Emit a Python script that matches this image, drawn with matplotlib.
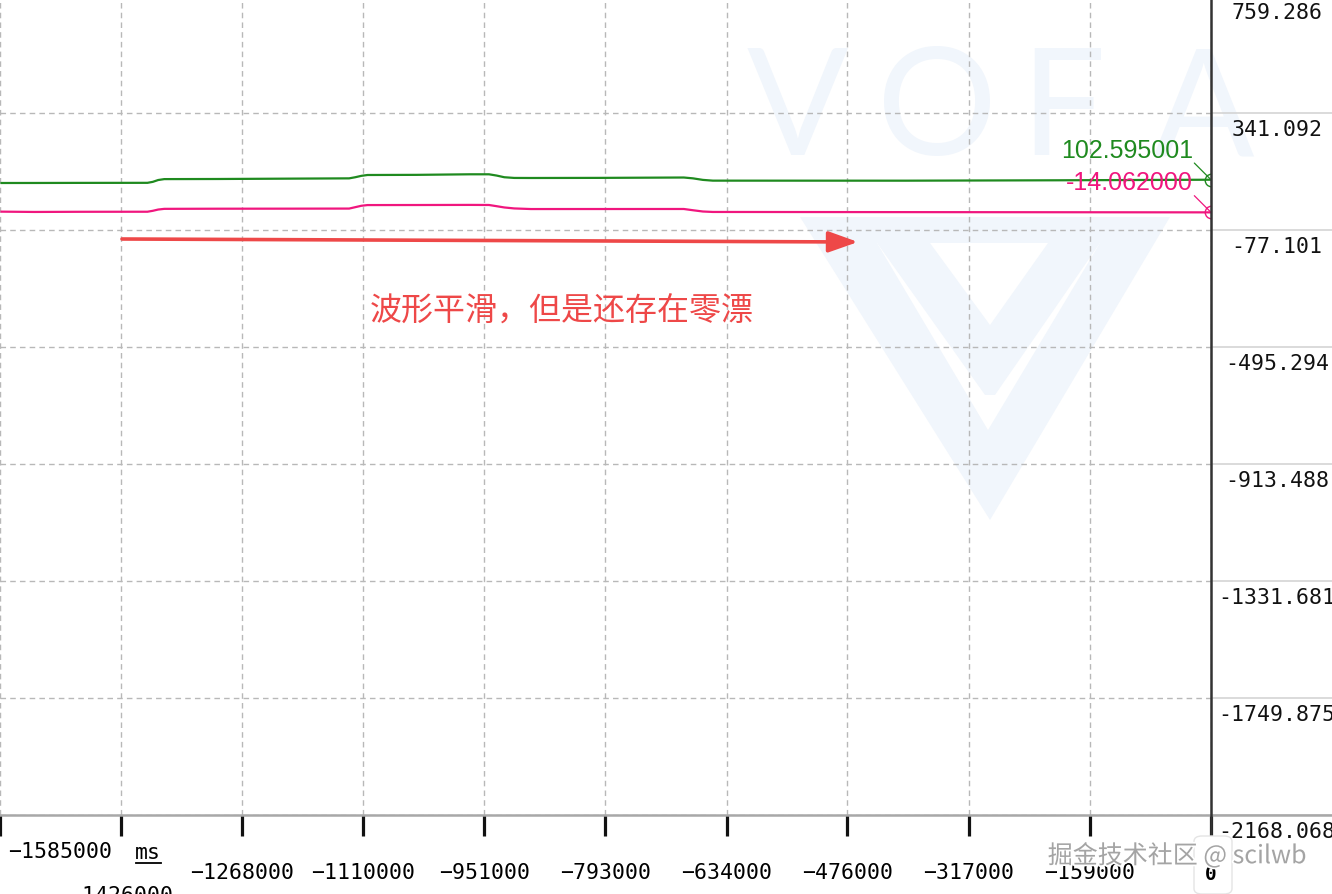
import matplotlib
matplotlib.use('Agg')
import matplotlib.pyplot as plt
from matplotlib import transforms
from matplotlib.lines import Line2D
from matplotlib.patches import Polygon, FancyBboxPatch
import matplotlib.patheffects as pe

plt.rcParams['font.family'] = ['Noto Sans CJK SC', 'DejaVu Sans']

# time axis in ms (0 = now), two channels
time_ms = [-1583000, -1540000, -1480000, -1392000, -1385000, -1378000, -1370000,
           -1300000, -1205000, -1128000, -1120000, -1112000, -1104000, -1040000,
           -970000, -945000, -935000, -925000, -912000, -890000, -800000,
           -690000, -678000, -665000, -652000, -400000, -200000, 0]
ch_green = [90.9, 91.0, 91.3, 91.5, 95.0, 101.5, 104.8,
            105.2, 106.5, 107.5, 111.5, 116.5, 119.5, 120.0,
            122.0, 122.0, 117.5, 111.5, 109.0, 108.8, 109.2,
            110.5, 107.5, 102.0, 99.3, 99.2, 100.6, 102.6]
ch_pink = [-11.5, -12.6, -12.0, -11.8, -8.5, -4.0, -1.5,
           -1.0, -0.8, -0.5, 4.5, 9.5, 12.0, 12.2,
           12.6, 12.3, 8.0, 3.5, 0.0, -2.2, -2.1,
           -2.0, -6.5, -11.0, -12.6, -13.2, -13.6, -14.06]

green_now = '102.595001'
pink_now = '-14.062000'

x_ticks = [-1585000, -1426000, -1268000, -1110000, -951000, -793000,
           -634000, -476000, -317000, -159000, 0]
y_ticks = [759.286, 341.092, -77.101, -495.294, -913.488, -1331.681,
           -1749.875, -2168.068]
x_unit = 'ms'
note = '波形平滑，但是还存在零漂'
credit = '掘金技术社区 @ scilwb'

GREEN = '#1f8a1f'
PINK = '#f0167e'
RED = '#ee4848'
WM = '#f1f6fc'
MONO = 'DejaVu Sans Mono'

W, H = 1332, 894
fig = plt.figure(figsize=(W / 100, H / 100), dpi=100)
fig.patch.set_facecolor('white')

def px(x, y):
    return (x / W, 1 - y / H)

# faint VOFA watermark behind everything
for letter, cx in zip('VOFA', [797, 937, 1063, 1203]):
    fig.text(*px(cx, 113), letter, fontsize=108, color=WM, ha='center', va='center',
             family='Lato', fontweight='normal', zorder=-5)
outer = [px(800, 217), px(1170, 217), px(990, 520)]
inner = [px(877, 243), px(1100, 243), px(988, 430)]
fig.add_artist(Polygon(outer, closed=True, transform=fig.transFigure, fc=WM, ec='none', zorder=-5))
fig.add_artist(Polygon(inner, closed=True, transform=fig.transFigure, fc='white', ec='none', zorder=-4))
small_v = [px(877, 243), px(930, 243), px(990, 325), px(1048, 243), px(1100, 243), px(995, 395), px(985, 395)]
fig.add_artist(Polygon(small_v, closed=True, transform=fig.transFigure, fc=WM, ec='none', zorder=-3))

ax = fig.add_axes([0, 1 - 815 / H, 1211 / W, 819 / H])
ax.set_facecolor('none')
ax.set_xlim(-1583000, 0)
ax.set_ylim(y_ticks[-1], y_ticks[0])

ax.plot(time_ms, ch_green, color=GREEN, lw=1.6, zorder=3)
ax.plot(time_ms, ch_pink, color=PINK, lw=1.6, zorder=3)

# grid
ax.set_xticks(x_ticks)
ax.set_yticks(y_ticks)
ax.set_axisbelow(True)
ax.grid(True, color='#b8b8b8', linestyle=(0, (4, 3)), linewidth=1)
ax.tick_params(axis='x', direction='out', length=15, width=2.3, color='#111111',
               labelbottom=False)
ax.tick_params(axis='y', length=0, labelleft=False)
for s in ['top', 'left', 'right', 'bottom']:
    ax.spines[s].set_visible(False)

# end markers + current values
for vals, col, txt in [(ch_green, GREEN, green_now), (ch_pink, PINK, pink_now)]:
    ax.plot(time_ms[-1], vals[-1], 'o', mfc='none', mec=col, ms=9, mew=1, zorder=4)
    ax.annotate('', xy=(time_ms[-1], vals[-1]), xytext=(-12, 12), textcoords='offset points',
                arrowprops=dict(arrowstyle='-', color=col, lw=0.9, shrinkA=0, shrinkB=1))
    ax.annotate(txt, xy=(time_ms[-1], vals[-1]), xytext=(-13, 21), textcoords='offset points',
                ha='right', va='center', color=col, fontsize=18, family='Liberation Sans',
                annotation_clip=False, zorder=5)

# right panel: value labels and solid guide lines
yblend = transforms.blended_transform_factory(ax.transAxes, ax.transData)
for v in y_ticks:
    ax.plot([1.002, 1.1], [v, v], transform=yblend, color='#d4d4d4', lw=1.2, clip_on=False)
    ax.annotate(f'{v:.3f}', xy=(1277 / 1211, v), xycoords=yblend, xytext=(0, -12.5),
                textcoords='offset points', ha='center', va='center', fontsize=15.5,
                family=MONO, color='#111111', annotation_clip=False)

# bottom base line across full width and dark right axis
fig.add_artist(Line2D([0, 1], [1 - 815 / H] * 2, color='#a8a8a8', lw=1.8, zorder=2))
fig.add_artist(Line2D([1211 / W] * 2, [1 - 836 / H, 1.0], color='#333333', lw=1.8, zorder=6))

# x labels (staggered rows as in the app)
xblend = transforms.blended_transform_factory(ax.transData, ax.transAxes)
row1, row2, row3 = -0.0452, -0.0708, -0.0985
for t in x_ticks:
    if t == x_ticks[0]:
        ax.text(0.007, row1, str(t).replace('-', '\u2212'), transform=ax.transAxes,
                ha='left', va='center', fontsize=15.5, family=MONO, clip_on=False)
    elif t == x_ticks[1]:
        ax.text(t, row3, str(t).replace('-', '\u2212'), transform=xblend,
                ha='center', va='center', fontsize=15.5, family=MONO, clip_on=False)
    elif t == 0:
        fig.add_artist(FancyBboxPatch(px(1194, 894), 38 / W, 58 / H,
                                      boxstyle='round,pad=0,rounding_size=0.006',
                                      transform=fig.transFigure, fc='white', ec='#e4e4e4',
                                      lw=1, zorder=7))
        fig.text(*px(1211, 874), '0', ha='center', va='center', fontsize=14,
                 family=MONO, fontweight='bold', zorder=8)
    else:
        ax.text(t, row2, str(t).replace('-', '\u2212'), transform=xblend,
                ha='center', va='center', fontsize=15.5, family=MONO, clip_on=False)

fig.text(*px(148, 853), x_unit, ha='center', va='center', fontsize=15.5, family=MONO)
fig.add_artist(Line2D([136 / W, 161 / W], [1 - 863 / H] * 2, color='black', lw=1.3))

# annotation arrow and note
ax.annotate('', xy=(858 / 1211, (815 - 242) / 819), xytext=(122 / 1211, (815 - 239) / 819),
            xycoords='axes fraction', textcoords='axes fraction',
            arrowprops=dict(arrowstyle='-|>,head_length=0.9,head_width=0.32', lw=2.6,
                            color=RED, mutation_scale=20, shrinkA=0, shrinkB=0), zorder=5)
ax.text(370 / 1211, (815 - 312) / 819, note, transform=ax.transAxes, ha='left', va='center',
        fontsize=23, color=RED, zorder=5)

# site credit
fig.text(*px(1177, 856), credit, ha='center', va='center', fontsize=18, color='#a4a4a4',
         zorder=9, path_effects=[pe.withStroke(linewidth=2.5, foreground='white')])

fig.savefig('out.png', dpi=100, facecolor='white')
